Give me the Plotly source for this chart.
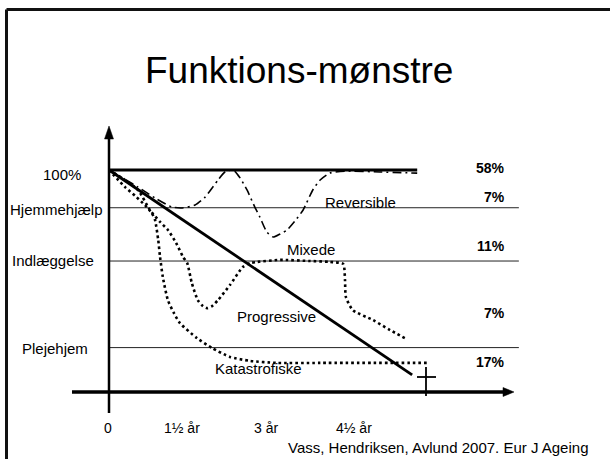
import plotly.graph_objects as go

# ---------------- data (schematic: time in years, function level in %) ----------------
rev_t = [0, 0.63, 1.0, 1.37, 1.59, 1.87, 2.09, 2.37, 2.52, 2.70, 2.85, 3.0, 3.17, 3.28, 3.43,
         3.57, 3.72, 3.87, 4.04, 4.22, 4.43, 4.59, 4.80, 5.13, 5.89, 6.70]
rev_L = [100, 92.3, 87.4, 83.3, 82.9, 84.2, 87.8, 95.5, 99.1, 100, 96.4, 91.0, 83.3, 78.8, 72.1,
         69.8, 71.2, 73.0, 77.0, 82.0, 91.0, 95.5, 98.6, 99.5, 99.1, 98.6]

mix_t = [0, 0.35, 0.63, 0.89, 1.11, 1.28, 1.46, 1.61, 1.70, 1.80, 1.93, 2.04, 2.13, 2.24, 2.37,
         2.63, 2.91, 3.07, 3.22, 3.72, 4.37, 4.80, 5.09, 5.13, 5.15, 5.30, 5.74, 6.11, 6.43]
mix_L = [100, 95.5, 91.0, 82.0, 76.6, 73.0, 67.1, 60.8, 58.1, 49.1, 41.4, 38.7, 37.8, 38.7, 41.4,
         48.2, 56.3, 58.1, 58.6, 59.5, 59.0, 58.6, 57.7, 50.5, 42.8, 36.9, 32.4, 27.9, 24.3]

kat_t = [0, 0.35, 0.57, 0.78, 0.93, 1.0, 1.07, 1.11, 1.17, 1.28, 1.41, 1.54, 1.91, 2.24, 2.63,
         3.07, 3.65, 4.59, 6.96]
kat_L = [100, 92.3, 88.3, 84.2, 80.6, 77.5, 68.5, 60.8, 51.8, 41.4, 35.6, 31.1, 24.3, 19.8, 15.8,
         14.0, 13.1, 13.1, 13.1]

prog_t = [0, 6.59]
prog_L = [100, 7.7]

full_t = [0, 6.70]          # 100 % line
level_names = ["Hjemmehjælp", "Indlæggelse", "Plejehjem"]
level_values = [83, 59, 20]
level_end_t = 8.91

left_labels = ["100%", "Hjemmehjælp", "Indlæggelse", "Plejehjem"]
share_labels = ["58%", "7%", "11%", "7%", "17%"]
tick_labels = ["0", "1½ år", "3 år", "4½ år"]
series_names = ["Reversible", "Mixede", "Progressive", "Katastrofiske"]
title_text = "Funktions-mønstre"
credit_text = "Vass, Hendriksen, Avlund 2007. Eur J Ageing"

# ---------------- geometry ----------------
W, H = 610, 459
X0PX, PXPERYR = 109, 46.0
Y0PX, PXPERLVL = 392, 2.22


def t_of(px):
    return (px - X0PX) / PXPERYR


def l_of(py):
    return (Y0PX - py) / PXPERLVL


FONT = "Arial, Liberation Sans, sans-serif"
fig = go.Figure()

# reference level lines
fig.add_trace(go.Scatter(x=full_t, y=[100, 100], mode="lines",
                         line=dict(color="#000", width=3), hoverinfo="skip", showlegend=False))
for v in level_values:
    fig.add_trace(go.Scatter(x=[0, level_end_t], y=[v, v], mode="lines",
                             line=dict(color="#222", width=1), hoverinfo="skip", showlegend=False))

# curves
fig.add_trace(go.Scatter(x=rev_t, y=rev_L, mode="lines", name=series_names[0],
                         line=dict(color="#000", width=1.6, dash="9px,4px,2px,4px", shape="spline", smoothing=0.6),
                         showlegend=False))
fig.add_trace(go.Scatter(x=mix_t, y=mix_L, mode="lines", name=series_names[1],
                         line=dict(color="#000", width=2.6, dash="2.6px,3px", shape="spline", smoothing=0.6),
                         showlegend=False))
fig.add_trace(go.Scatter(x=kat_t, y=kat_L, mode="lines", name=series_names[3],
                         line=dict(color="#000", width=2.6, dash="2.6px,3px", shape="spline", smoothing=0.6),
                         showlegend=False))
fig.add_trace(go.Scatter(x=prog_t, y=prog_L, mode="lines", name=series_names[2],
                         line=dict(color="#000", width=2.8), showlegend=False))

# ---------------- decorations in pixel space (overlay axes x2/y2) ----------------
shapes = []
# slide border (top + left)
shapes.append(dict(type="line", xref="x2", yref="y2", x0=6.5, y0=9.5, x1=W + 5, y1=9.5,
                   line=dict(color="#111", width=3)))
shapes.append(dict(type="line", xref="x2", yref="y2", x0=6.5, y0=9.5, x1=6.5, y1=H + 5,
                   line=dict(color="#111", width=3)))
# y axis with arrow
shapes.append(dict(type="line", xref="x2", yref="y2", x0=109, y0=413, x1=109, y1=136,
                   line=dict(color="#000", width=2.5)))
shapes.append(dict(type="path", xref="x2", yref="y2", path="M 109 126 L 104.5 139 L 113.5 139 Z",
                   fillcolor="#000", line=dict(color="#000", width=0.5)))
# x axis with arrow
shapes.append(dict(type="line", xref="x2", yref="y2", x0=72, y0=392, x1=505, y1=392,
                   line=dict(color="#000", width=3.5)))
shapes.append(dict(type="path", xref="x2", yref="y2", path="M 514 392 L 503 387.5 L 503 396.5 Z",
                   fillcolor="#000", line=dict(color="#000", width=0.5)))
# death cross
shapes.append(dict(type="line", xref="x2", yref="y2", x0=426, y0=367, x1=426, y1=396,
                   line=dict(color="#000", width=1.8)))
shapes.append(dict(type="line", xref="x2", yref="y2", x0=417, y0=377, x1=436, y1=377,
                   line=dict(color="#000", width=1.8)))

ann = []


def txt(s, x, y, size=15, xanchor="center", bold=False):
    ann.append(dict(text=("<b>%s</b>" % s) if bold else s, x=x, y=y, xref="x2", yref="y2",
                    xanchor=xanchor, yanchor="middle", showarrow=False,
                    font=dict(family=FONT, size=size, color="#000")))


txt(title_text, 299, 70, size=37)
for s, x, y in zip(left_labels, [62, 56, 53, 55], [174, 209, 260, 348]):
    txt(s, x, y, size=15)
for s, y in zip(share_labels, [168, 197, 246, 313, 362]):
    txt(s, 507, y, size=14, xanchor="right", bold=True)
for s, x in zip(tick_labels, [108, 182, 266, 354]):
    txt(s, x, 428, size=14)
for s, x, y in zip(series_names, [360, 311, 276, 258], [202, 249, 316, 368]):
    txt(s, x, y, size=15)
txt(credit_text, 590, 447, size=15, xanchor="right")

fig.update_layout(
    width=W, height=H, margin=dict(l=0, r=0, t=0, b=0),
    paper_bgcolor="white", plot_bgcolor="white",
    xaxis=dict(range=[t_of(0), t_of(W)], visible=False, fixedrange=True),
    yaxis=dict(range=[l_of(H), l_of(0)], visible=False, fixedrange=True),
    xaxis2=dict(range=[0, W], visible=False, overlaying="x", fixedrange=True),
    yaxis2=dict(range=[H, 0], visible=False, overlaying="y", fixedrange=True),
    shapes=shapes, annotations=ann, showlegend=False,
)
# dummy trace to activate overlay axes
fig.add_trace(go.Scatter(x=[0], y=[0], xaxis="x2", yaxis="y2", mode="markers",
                         marker=dict(opacity=0), hoverinfo="skip", showlegend=False))

fig.write_html("out.html", config={"displayModeBar": False},
               post_script="document.body.style.margin='0';document.body.style.overflow='hidden';")
